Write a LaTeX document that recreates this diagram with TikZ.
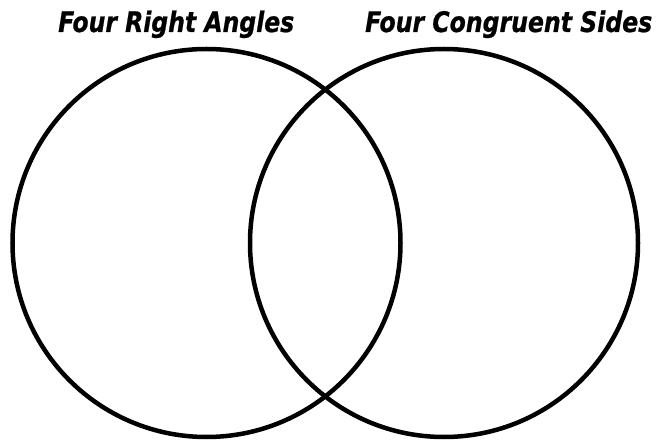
\documentclass[tikz,border=0pt]{standalone}
\usepackage{fontspec}
\newfontfamily\titlefont[BoldItalicFeatures={FakeBold=0.8}]{DejaVu Sans}
\tikzset{
  venn/.style={draw=black, line width=4.5pt},
  vtitle/.style={anchor=base west, inner sep=0pt, font=\titlefont\bfseries\itshape}
}
\begin{document}
\begin{tikzpicture}[x=1pt,y=-1pt]
\useasboundingbox (0,0) rectangle (656,443);
\draw[venn] (206.5,243) circle[radius=194];
\draw[venn] (444,243) circle[radius=194];
\node[vtitle] (t1) at (58,32) {\resizebox{236pt}{!}{\scalebox{1}[1.2]{Four Right Angles}}};
\node[vtitle] (t2) at (365,32) {\resizebox{287pt}{!}{\scalebox{1}[1.2]{Four Congruent Sides}}};
\end{tikzpicture}
\end{document}
